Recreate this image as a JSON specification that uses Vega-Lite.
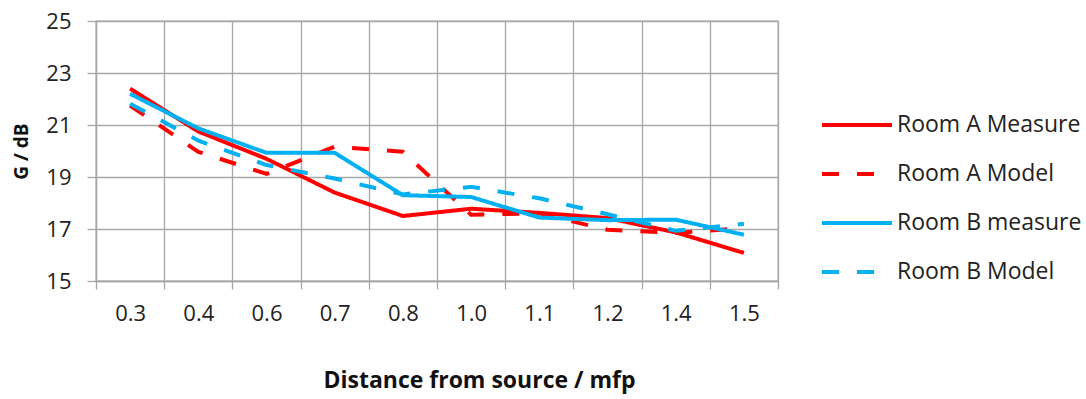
{
  "$schema": "https://vega.github.io/schema/vega-lite/v6.json",
  "autosize": {"type": "none"},
  "padding": {"left": 96, "top": 21, "right": 308, "bottom": 118},
  "width": 682,
  "height": 260,
  "background": "white",
  "config": {
    "font": "Open Sans",
    "view": {"stroke": "#a6a6a6", "strokeWidth": 1.3}
  },
  "data": {
    "values": [
      {"series": "Room A Measure", "d": "0.3", "g": 22.4},
      {"series": "Room A Measure", "d": "0.4", "g": 20.75},
      {"series": "Room A Measure", "d": "0.6", "g": 19.7},
      {"series": "Room A Measure", "d": "0.7", "g": 18.4},
      {"series": "Room A Measure", "d": "0.8", "g": 17.5},
      {"series": "Room A Measure", "d": "1.0", "g": 17.78},
      {"series": "Room A Measure", "d": "1.1", "g": 17.62},
      {"series": "Room A Measure", "d": "1.2", "g": 17.42},
      {"series": "Room A Measure", "d": "1.4", "g": 16.87},
      {"series": "Room A Measure", "d": "1.5", "g": 16.08},
      {"series": "Room A Model", "d": "0.3", "g": 21.75},
      {"series": "Room A Model", "d": "0.4", "g": 19.97},
      {"series": "Room A Model", "d": "0.6", "g": 19.12},
      {"series": "Room A Model", "d": "0.7", "g": 20.17},
      {"series": "Room A Model", "d": "0.8", "g": 19.97},
      {"series": "Room A Model", "d": "1.0", "g": 17.55},
      {"series": "Room A Model", "d": "1.1", "g": 17.6},
      {"series": "Room A Model", "d": "1.2", "g": 16.97},
      {"series": "Room A Model", "d": "1.4", "g": 16.85},
      {"series": "Room A Model", "d": "1.5", "g": 17.03},
      {"series": "Room B measure", "d": "0.3", "g": 22.2},
      {"series": "Room B measure", "d": "0.4", "g": 20.87},
      {"series": "Room B measure", "d": "0.6", "g": 19.93},
      {"series": "Room B measure", "d": "0.7", "g": 19.93},
      {"series": "Room B measure", "d": "0.8", "g": 18.3},
      {"series": "Room B measure", "d": "1.0", "g": 18.23},
      {"series": "Room B measure", "d": "1.1", "g": 17.44},
      {"series": "Room B measure", "d": "1.2", "g": 17.34},
      {"series": "Room B measure", "d": "1.4", "g": 17.36},
      {"series": "Room B measure", "d": "1.5", "g": 16.78},
      {"series": "Room B Model", "d": "0.3", "g": 21.82},
      {"series": "Room B Model", "d": "0.4", "g": 20.4},
      {"series": "Room B Model", "d": "0.6", "g": 19.46},
      {"series": "Room B Model", "d": "0.7", "g": 18.94},
      {"series": "Room B Model", "d": "0.8", "g": 18.33},
      {"series": "Room B Model", "d": "1.0", "g": 18.62},
      {"series": "Room B Model", "d": "1.1", "g": 18.18},
      {"series": "Room B Model", "d": "1.2", "g": 17.57},
      {"series": "Room B Model", "d": "1.4", "g": 16.93},
      {"series": "Room B Model", "d": "1.5", "g": 17.2}
    ]
  },
  "mark": {"type": "line", "strokeWidth": 4, "strokeCap": "butt", "strokeJoin": "round"},
  "encoding": {
    "x": {
      "field": "d",
      "type": "nominal",
      "sort": ["0.3", "0.4", "0.6", "0.7", "0.8", "1.0", "1.1", "1.2", "1.4", "1.5"],
      "scale": {"type": "band", "paddingInner": 0, "paddingOuter": 0},
      "axis": {
        "title": "Distance from source / mfp",
        "titleFont": "Open Sans",
        "titleFontSize": 23,
        "titleFontWeight": "bold",
        "titleColor": "#111111",
        "titleX": 383,
        "titlePadding": 45,
        "labelAngle": 0,
        "labelFontSize": 22,
        "labelColor": "#222222",
        "labelPadding": 14,
        "tickBand": "extent",
        "tickSize": 8,
        "tickColor": "#a6a6a6",
        "tickWidth": 1.3,
        "domainColor": "#a6a6a6",
        "domainWidth": 1.3,
        "grid": true,
        "gridColor": "#a6a6a6",
        "gridWidth": 1.3
      }
    },
    "y": {
      "field": "g",
      "type": "quantitative",
      "scale": {"domain": [15, 25], "nice": false, "zero": false},
      "axis": {
        "title": "G / dB",
        "titleFont": "Open Sans",
        "titleFontSize": 19,
        "titleFontWeight": "bold",
        "titleColor": "#111111",
        "titlePadding": 14,
        "values": [15, 17, 19, 21, 23, 25],
        "labelFontSize": 22,
        "labelColor": "#222222",
        "labelPadding": 16,
        "tickSize": 9,
        "tickColor": "#a6a6a6",
        "tickWidth": 1.3,
        "domainColor": "#a6a6a6",
        "domainWidth": 1.3,
        "grid": true,
        "gridColor": "#a6a6a6",
        "gridWidth": 1.3
      }
    },
    "color": {
      "field": "series",
      "type": "nominal",
      "scale": {
        "domain": ["Room A Measure", "Room A Model", "Room B measure", "Room B Model"],
        "range": ["#ff0000", "#ff0000", "#00b0f0", "#00b0f0"]
      },
      "legend": {
        "title": null,
        "orient": "none",
        "legendX": 724,
        "legendY": 67,
        "symbolType": "stroke",
        "symbolSize": 4900,
        "symbolStrokeWidth": 4,
        "labelFontSize": 23,
        "labelLimit": 0,
        "labelColor": "#222222",
        "labelOffset": 3,
        "rowPadding": 0,
        "padding": 0
      }
    },
    "strokeDash": {
      "field": "series",
      "type": "nominal",
      "scale": {
        "domain": ["Room A Measure", "Room A Model", "Room B measure", "Room B Model"],
        "range": [[1, 0], [17, 18], [1, 0], [17, 18]]
      },
      "legend": {
        "title": null,
        "orient": "none",
        "legendX": 724,
        "legendY": 67,
        "symbolType": "stroke",
        "symbolSize": 4900,
        "symbolStrokeWidth": 4,
        "labelFontSize": 23,
        "labelLimit": 0,
        "labelColor": "#222222",
        "labelOffset": 3,
        "rowPadding": 0,
        "padding": 0
      }
    }
  }
}
